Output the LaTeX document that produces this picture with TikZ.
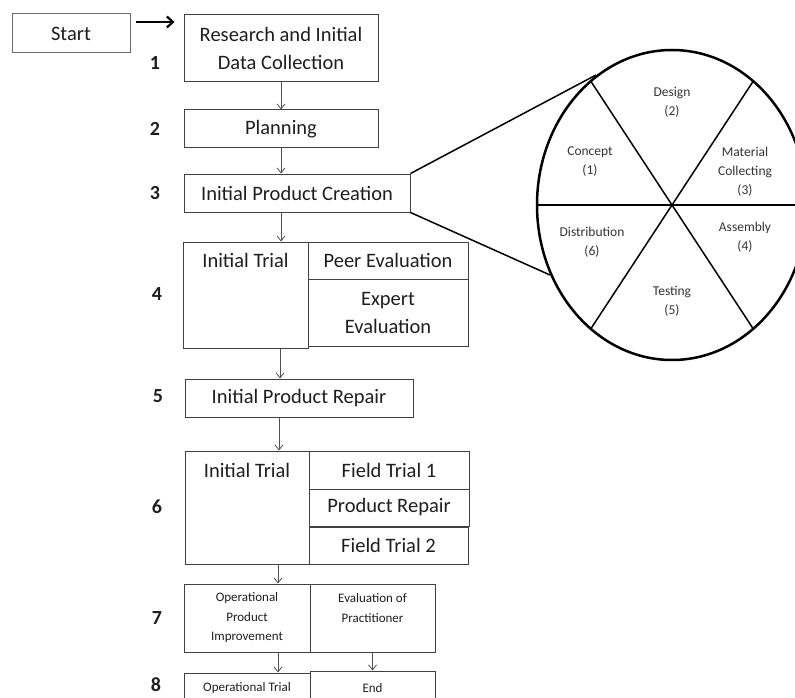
\documentclass[tikz,border=0pt]{standalone}
\usepackage{fontspec}
\setmainfont{Carlito}
\usetikzlibrary{arrows.meta,calc}
\definecolor{boxgray}{HTML}{404040}
\definecolor{arrgray}{HTML}{505050}
\definecolor{txt}{HTML}{1E1E1E}
\definecolor{etxt}{HTML}{333333}
\newcommand\mainsz{\fontsize{20.5}{28}\selectfont}
\newcommand\smallsz{\fontsize{13}{19.5}\selectfont}
\newcommand\ellsz{\fontsize{13.5}{19}\selectfont}
\newcommand\numsz{\fontsize{20}{24}\selectfont\bfseries}
\begin{document}
\begin{tikzpicture}[x=1pt,y=-1pt,
  box/.style={draw=boxgray, line width=1pt, rectangle, inner sep=0pt, align=center, font=\mainsz, text=txt},
  sbox/.style={box, font=\smallsz},
  tlabel/.style={inner sep=0pt, align=center, font=\mainsz, text=txt},
  slabel/.style={inner sep=0pt, align=center, font=\smallsz, text=txt},
  elabel/.style={inner sep=0pt, align=center, font=\ellsz, text=etxt},
  numlabel/.style={inner sep=0pt, font=\numsz, text=txt},
  flow/.style={draw=arrgray, line width=0.8pt, -{Straight Barb[length=5pt,width=8pt]}},
  zoomline/.style={draw=black, line width=1.5pt}
]
\useasboundingbox (0,0) rectangle (795,698);
\clip (0,0) rectangle (795,698);

% start
\node[box, draw=gray!85!black, minimum width=118, minimum height=39] (start) at (71,33.5) {Start};

% step boxes
\node[box, minimum width=194, minimum height=67] (b1) at (281,48.5) {Research and Initial\\Data Collection};
\node[box, minimum width=194, minimum height=38] (b2) at (281,129) {Planning};
\node[box, minimum width=226, minimum height=38] (b3) at (297,193) {Initial Product Creation};

\node[box, minimum width=125, minimum height=106] (b4a) at (245.5,295) {};
\node[tlabel] (b4t) at (245.5,260) {Initial Trial};
\node[box, minimum width=160, minimum height=37] (b4b) at (388,260.5) {Peer Evaluation};
\node[box, minimum width=160, minimum height=67] (b4c) at (388,312.5) {Expert\\Evaluation};

\node[box, minimum width=228, minimum height=38] (b5) at (299,398) {Initial Product Repair};

\node[box, minimum width=124, minimum height=113] (b6a) at (247,507.5) {};
\node[tlabel] (b6t) at (247,470) {Initial Trial};
\node[box, minimum width=160, minimum height=38] (b6b) at (389,470) {Field Trial 1};
\node[box, minimum width=160, minimum height=37] (b6c) at (389,507.5) {Product Repair};
\node[box, minimum width=159, minimum height=37] (b6d) at (388.5,545.5) {Field Trial 2};

\node[sbox, minimum width=126, minimum height=68] (b7a) at (247,618) {Operational\\Product\\Improvement};
\node[box, minimum width=125, minimum height=68] (b7b) at (372.5,618) {};
\node[slabel] (b7t) at (372.5,608) {Evaluation of\\Practitioner};

\node[box, minimum width=126, minimum height=47] (b8a) at (247,696.5) {};
\node[slabel] (b8at) at (247,688) {Operational Trial};
\node[box, minimum width=125, minimum height=49] (b8b) at (372.5,695.5) {};
\node[slabel] (b8bt) at (372.5,688) {End};

% step numbers
\node[numlabel] (n1) at (155,63) {1};
\node[numlabel] (n2) at (155,129) {2};
\node[numlabel] (n3) at (155,193) {3};
\node[numlabel] (n4) at (157,294) {4};
\node[numlabel] (n5) at (158,396) {5};
\node[numlabel] (n6) at (157,507) {6};
\node[numlabel] (n7) at (157,618) {7};
\node[numlabel] (n8) at (156,685) {8};

% start arrow
\coordinate (sa) at ([shift={(5,-11.5)}]start.east);
\draw[line width=2.2pt, shorten >=9pt, -{Straight Barb[length=6pt,width=11pt,line width=2.2pt]}] (sa) -- (sa -| b1.west);

% flow arrows
\draw[flow] (b1.south) -- (b2.north);
\draw[flow] (b2.south) -- (b2.south |- b3.north);
\coordinate (a3) at ([xshift=-16]b3.south);
\draw[flow] (a3) -- (a3 |- b4a.north);
\coordinate (a4) at ([xshift=34.5]b4a.south);
\draw[flow] (a4) -- (a4 |- b5.north);
\coordinate (a5) at ([xshift=-20]b5.south);
\draw[flow] (a5) -- (a5 |- b6a.north);
\coordinate (a6) at ([xshift=31]b6a.south);
\draw[flow] (a6) -- (a6 |- b7a.north);
\coordinate (a7) at ([xshift=31]b7a.south);
\draw[flow] (a7) -- (a7 |- b8a.north);
\draw[flow] (b7b.south) -- (b7b.south |- b8b.north);

% zoom ellipse
\coordinate (c) at (672,205);
\coordinate (t1) at (596,75);
\coordinate (t2) at (550,275);
\draw[zoomline] (b3.north east) -- (t1);
\draw[zoomline] (b3.south east) -- (t2);
\draw[zoomline] ($(c)+(-135,0)$) -- ($(c)+(135,0)$);
\draw[zoomline] ($(c)+(-81.2,-123.8)$) -- ($(c)+(81.2,123.8)$);
\draw[zoomline] ($(c)+(81.2,-123.8)$) -- ($(c)+(-81.2,123.8)$);
\draw[line width=2.5pt] (c) ellipse [x radius=135pt, y radius=155pt];

\node[elabel] (e1) at (590,162) {Concept\\(1)};
\node[elabel] (e2) at (672,102) {Design\\(2)};
\node[elabel] (e3) at (745,172) {Material\\Collecting\\(3)};
\node[elabel] (e4) at (745,237) {Assembly\\(4)};
\node[elabel] (e5) at (672,301) {Testing\\(5)};
\node[elabel] (e6) at (592,242) {Distribution\\(6)};
\end{tikzpicture}
\end{document}
